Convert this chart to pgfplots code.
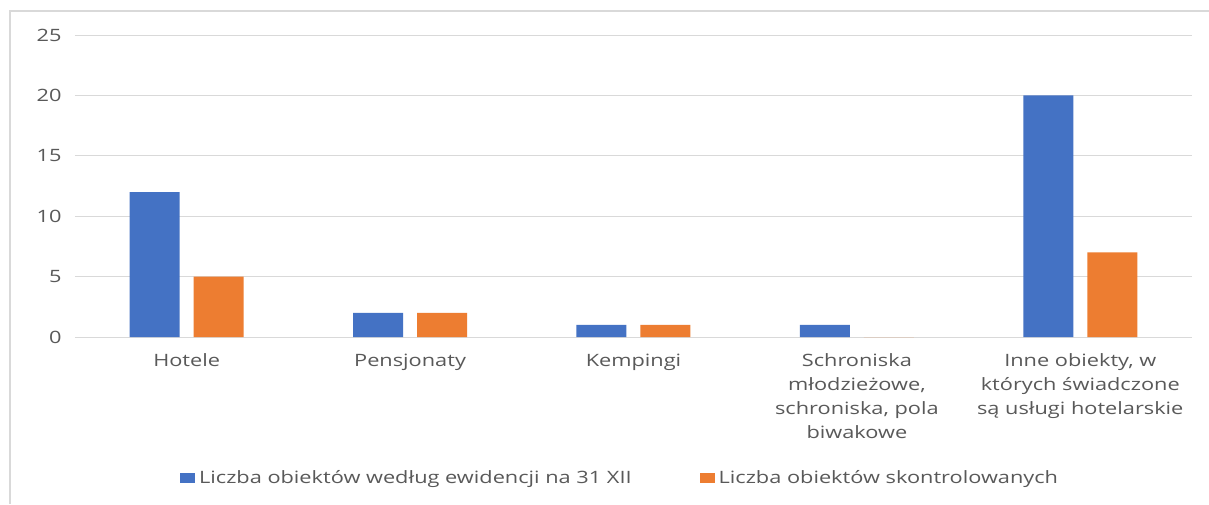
\documentclass[border=0pt]{standalone}
\usepackage{fontspec}
\setmainfont[FakeStretch=1.28]{Open Sans}
\usepackage{pgfplots}
\pgfplotsset{compat=1.18}
\definecolor{cblue}{HTML}{4472C4}
\definecolor{corange}{HTML}{ED7D31}
\definecolor{cgrid}{HTML}{D9D9D9}
\definecolor{ctext}{HTML}{595959}
\begin{document}
\begin{tikzpicture}[x=1pt,y=1pt]
\useasboundingbox (-75,-167) rectangle (1134,337);
\fill[white] (-75,-167) rectangle (1134,337);
\draw[cgrid, line width=2pt] (-65,-167) -- (-65,326) -- (1134,326);
\begin{axis}[
  at={(0,0)}, anchor=south west,
  scale only axis, width=1117pt, height=302pt,
  ymin=0, ymax=25, ytick={0,5,...,25},
  xmin=-0.5, xmax=4.5, xtick={0,1,2,3,4},
  xticklabels={Hotele, Pensjonaty, Kempingi,
    {Schroniska\\młodzieżowe,\\schroniska, pola\\biwakowe},
    {Inne obiekty, w\\których świadczone\\są usługi hotelarskie}},
  ybar=14pt, bar width=50pt,
  axis line style={draw=none},
  major tick length=0pt,
  ymajorgrids, grid style={cgrid, line width=1pt},
  /pgf/number format/assume math mode=true,
  tick label style={font=\fontsize{17}{24}\selectfont, text=ctext},
  yticklabel style={xshift=-10pt},
  xticklabel style={align=center, yshift=-13pt},
  legend columns=2,
  legend style={draw=none, at={(0.488,-0.467)}, anchor=center,
    font=\fontsize{17}{20}\selectfont, text=ctext,
    /tikz/every odd column/.append style={column sep=2pt},
    /tikz/every even column/.append style={column sep=66pt}},
  legend image code/.code={\fill[#1] (0pt,-5pt) rectangle (15pt,5pt);},
]
\addplot[fill=cblue, draw=none] coordinates {(0,12) (1,2) (2,1) (3,1) (4,20)};
\addplot[fill=corange, draw=none] coordinates {(0,5) (1,2) (2,1) (3,0) (4,7)};
\legend{Liczba obiektów według ewidencji na 31 XII, Liczba obiektów skontrolowanych}
\end{axis}
\end{tikzpicture}
\end{document}
